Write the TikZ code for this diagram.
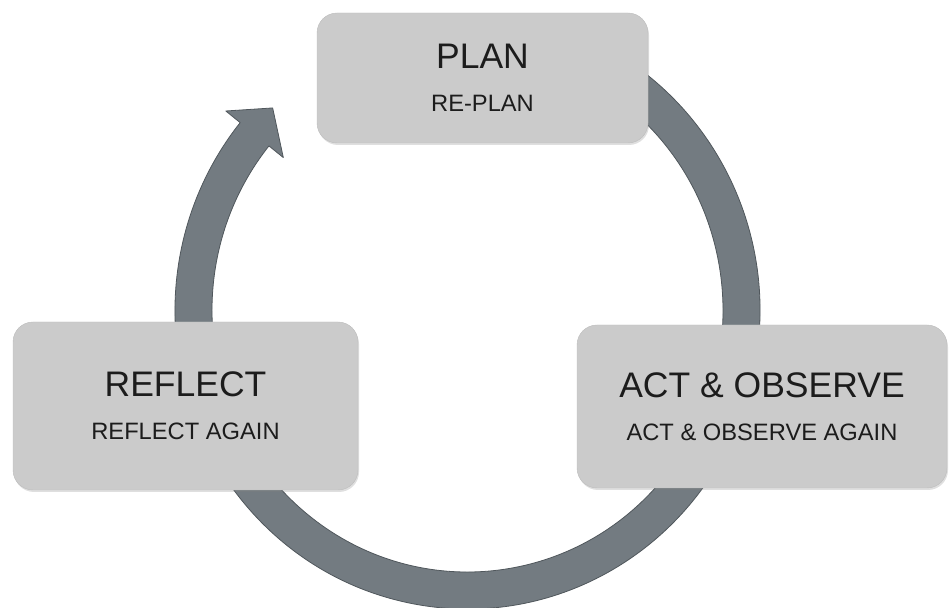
\documentclass[tikz,border=0pt]{standalone}
\usepackage{fontspec}
\setmainfont{Liberation Sans}
\usetikzlibrary{shadows}
\definecolor{ringgray}{HTML}{737B81}
\definecolor{ringedge}{HTML}{50575C}
\definecolor{boxgray}{HTML}{CBCBCB}
\definecolor{boxedge}{HTML}{BDBDBD}
\definecolor{ink}{HTML}{1C1C1C}
\newcommand{\stagetitle}[1]{{\fontsize{35.5}{43}\selectfont #1}}
\tikzset{
  stagebox/.style={draw=boxedge, fill=boxgray, rounded corners=20pt, align=center,
    text=ink, font=\fontsize{23.7}{43}\selectfont,
    drop shadow={shadow xshift=1pt, shadow yshift=-2pt, opacity=0.25}},
  ringarrow/.style={fill=ringgray, draw=ringedge, line width=0.8pt, line join=round}
}

\begin{document}
\begin{tikzpicture}[x=1pt,y=1pt]
\useasboundingbox (0,0) rectangle (949,607);
\coordinate (c) at (467.5,296.5);
% the cycle: one band with its head, drawn as a closed outline
\filldraw[ringarrow]
  ([shift={(c)}]80:292.5 and 298.5)
    arc[start angle=80, end angle=-219, x radius=292.5, y radius=298.5]
  -- ([shift={(c)}]141:311 and 317)
  -- ([shift={(c)}]134.5:278 and 284)
  -- ([shift={(c)}]141:237 and 243)
  -- ([shift={(c)}]141:255.5 and 261.5)
    arc[start angle=141, end angle=440, x radius=255.5, y radius=261.5]
  -- cycle;
% stages
\node[stagebox, minimum width=331pt, minimum height=130pt] (plan) at (482.5,529)
  {\stagetitle{PLAN}\\RE-PLAN};
\node[stagebox, minimum width=345pt, minimum height=168pt] (reflect) at (185.5,201)
  {\stagetitle{REFLECT}\\REFLECT AGAIN};
\node[stagebox, minimum width=370pt, minimum height=163pt] (act) at (762,200.5)
  {\stagetitle{ACT \& OBSERVE}\\ACT \& OBSERVE AGAIN};
\end{tikzpicture}
\end{document}
